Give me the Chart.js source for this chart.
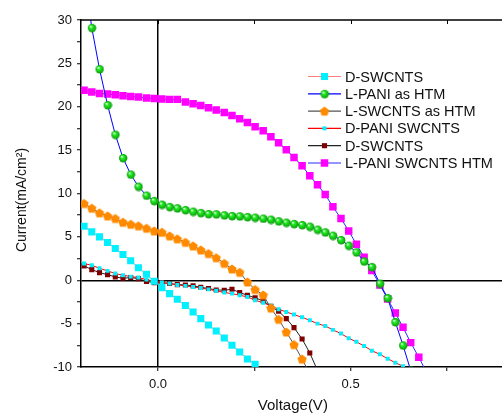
<!DOCTYPE html>
<html>
<head>
<meta charset="utf-8">
<script src="https://cdn.jsdelivr.net/npm/chart.js@4.4.1/dist/chart.umd.min.js"></script>
<style>
  html, body { margin: 0; padding: 0; background: #fff; overflow: hidden; }
  #wrap { width: 510px; height: 415px; }
</style>
</head>
<body>
<div id="wrap"><canvas id="ivChart" width="510" height="415"></canvas></div>
<script>
// shared voltage steps (V)
const voltage = [-0.192, -0.172, -0.152, -0.131, -0.111, -0.091, -0.071, -0.051, -0.030, -0.010,
  0.010, 0.030, 0.050, 0.071, 0.091, 0.111, 0.131, 0.151, 0.172, 0.192,
  0.212, 0.232, 0.252, 0.273, 0.293, 0.313, 0.333, 0.353, 0.374, 0.394,
  0.414, 0.434, 0.454, 0.475, 0.495, 0.515, 0.535, 0.555, 0.576, 0.596,
  0.616, 0.636, 0.656, 0.677, 0.697];

// current density per device (mA/cm2), one value per voltage step
const dSwcnts = [6.23, 5.58, 5.0, 4.35, 3.65, 2.96, 2.25, 1.45, 0.69, -0.12,
  -0.85, -1.54, -2.19, -2.92, -3.65, -4.42, -5.15, -5.85, -6.65, -7.5,
  -8.27, -9.08, -9.7];
const lPaniHtm = [35.5, 29.1, 24.35, 20.2, 16.8, 14.1, 12.2, 10.8, 9.77, 9.15,
  8.73, 8.46, 8.31, 8.11, 7.92, 7.77, 7.65, 7.62, 7.5, 7.42,
  7.38, 7.3, 7.23, 7.12, 7.0, 6.81, 6.65, 6.5, 6.38, 6.19,
  5.85, 5.54, 5.15, 4.65, 4.0, 3.23, 2.19, 1.54, -0.38, -2.04,
  -4.81, -7.5, -10.4];
const lSwcntsHtm = [8.85, 8.31, 7.77, 7.42, 7.12, 6.69, 6.46, 6.27, 6.0, 5.69,
  5.54, 5.11, 4.77, 4.38, 3.96, 3.5, 3.08, 2.6, 1.95, 1.3,
  0.92, -0.2, -1.06, -1.7, -3.2, -4.5, -5.96, -7.42, -9.08, -10.8];
const dPaniSwcnts = [1.92, 1.73, 1.38, 1.08, 0.77, 0.58, 0.42, 0.31, 0.08, -0.12,
  -0.27, -0.38, -0.54, -0.65, -0.77, -0.9, -1.05, -1.2, -1.42, -1.54,
  -1.73, -1.92, -2.3, -2.6, -2.95, -3.35, -3.65, -3.96, -4.27, -4.62,
  -5.0, -5.27, -5.72, -6.15, -6.68, -7.1, -7.58, -8.12, -8.54, -9.04,
  -9.5, -9.92];
const dSwcnts2 = [1.65, 1.23, 0.88, 0.65, 0.38, 0.23, 0.31, 0.19, -0.15, -0.27,
  -0.27, -0.38, -0.5, -0.54, -0.65, -0.81, -0.96, -1.12, -1.15, -1.04,
  -1.42, -1.73, -2.02, -2.38, -3.0, -3.58, -4.42, -5.46, -6.77, -8.38,
  -10.4];
const lPaniSwcntsHtm = [21.89, 21.69, 21.54, 21.46, 21.38, 21.27, 21.19, 21.11, 21.0, 20.96,
  20.88, 20.85, 20.85, 20.54, 20.35, 20.15, 19.88, 19.62, 19.35, 19.0,
  18.62, 18.19, 17.69, 17.23, 16.54, 15.85, 15.04, 14.15, 13.19, 12.04,
  11.0, 9.88, 8.46, 7.12, 5.69, 4.15, 2.65, 1.12, -0.54, -2.15,
  -3.77, -5.42, -7.19, -8.88, -10.6];

const seriesNames = ['D-SWCNTS', 'L-PANI as HTM', 'L-SWCNTS as HTM', 'D-PANI SWCNTS', 'D-SWCNTS', 'L-PANI SWCNTS HTM'];

const xTickValues = [0, 0.25, 0.5, 0.75];
const xTickLabels = { 0: '0.0', 0.5: '0.5' };
const yTickValues = [-10, -7.5, -5, -2.5, 0, 2.5, 5, 7.5, 10, 12.5, 15, 17.5, 20, 22.5, 25, 27.5, 30];
const yTitle = 'Current(mA/cm²)';

const FONT = 'Liberation Sans, Arial, sans-serif';

// shaded ball marker
function sphere(r, body, edge) {
  const c = document.createElement('canvas');
  c.width = c.height = 2 * r + 2;
  const g = c.getContext('2d');
  const m = r + 1;
  const grd = g.createRadialGradient(m - r * 0.35, m - r * 0.4, r * 0.05, m, m, r);
  grd.addColorStop(0, '#f4fff4');
  grd.addColorStop(0.35, body);
  grd.addColorStop(1, edge);
  g.fillStyle = grd;
  g.beginPath();
  g.arc(m, m, r, 0, Math.PI * 2);
  g.fill();
  return c;
}

// pentagon marker, point up
function pentagon(r, color) {
  const c = document.createElement('canvas');
  c.width = c.height = Math.ceil(2 * r + 2);
  const g = c.getContext('2d');
  const m = c.width / 2;
  g.fillStyle = color;
  g.beginPath();
  for (let i = 0; i < 5; i++) {
    const a = -Math.PI / 2 + i * 2 * Math.PI / 5;
    const px = m + r * Math.cos(a), py = m + r * Math.sin(a) + 0.5;
    if (i === 0) g.moveTo(px, py); else g.lineTo(px, py);
  }
  g.closePath();
  g.fill();
  return c;
}

function points(values) {
  return values.map((y, i) => ({ x: voltage[i], y: y }));
}

function series(label, values, line, marker, style, radius) {
  return {
    label: label,
    data: points(values),
    borderColor: line,
    borderWidth: 1,
    backgroundColor: marker,
    pointBackgroundColor: marker,
    pointBorderColor: marker,
    pointBorderWidth: 0,
    pointStyle: style,
    pointRadius: radius,
    pointHoverRadius: radius,
    tension: 0,
    fill: false
  };
}

const greenBall = sphere(4.2, '#22ee22', '#0a9a0a');
const orangePenta = pentagon(4.9, '#ff8a00');

const datasets = [
  series(seriesNames[0], dSwcnts, '#ff8080', '#00f0ff', 'rect', 5),
  series(seriesNames[1], lPaniHtm, '#0000ff', '#22ee22', greenBall, 4),
  series(seriesNames[2], lSwcntsHtm, '#555555', '#ff8a00', orangePenta, 5),
  series(seriesNames[3], dPaniSwcnts, '#ff0000', '#00f0ff', 'rect', 2.8),
  series(seriesNames[4], dSwcnts2, '#222222', '#800000', 'rect', 3.6),
  series(seriesNames[5], lPaniSwcntsHtm, '#2a2aff', '#ff00ff', 'rect', 5.3)
];

// y title, top frame line with inward ticks, and line-and-symbol legend
const plotExtras = {
  id: 'plotExtras',
  afterDraw(chart) {
    const ctx = chart.ctx;
    const area = chart.chartArea;
    const xs = chart.scales.x;
    ctx.save();

    ctx.save();
    ctx.translate(22, 200);
    ctx.rotate(-Math.PI / 2);
    ctx.font = '14px ' + FONT;
    ctx.fillStyle = '#111';
    ctx.textAlign = 'center';
    ctx.textBaseline = 'middle';
    ctx.fillText(yTitle, 0, 0);
    ctx.restore();

    ctx.strokeStyle = '#000';
    ctx.lineWidth = 1.5;
    ctx.beginPath();
    ctx.moveTo(area.left, area.top);
    ctx.lineTo(area.right, area.top);
    ctx.stroke();
    ctx.lineWidth = 1;
    xTickValues.forEach(v => {
      const px = Math.round(xs.getPixelForValue(v)) + 0.5;
      ctx.beginPath();
      ctx.moveTo(px, area.top);
      ctx.lineTo(px, area.top + 4);
      ctx.stroke();
    });

    const lx0 = 308, lx1 = 341, tx = 345;
    let ly = 76.5;
    ctx.font = '14.5px ' + FONT;
    ctx.textBaseline = 'middle';
    chart.data.datasets.forEach(ds => {
      ctx.strokeStyle = ds.borderColor;
      ctx.lineWidth = 1.2;
      ctx.beginPath();
      ctx.moveTo(lx0, ly);
      ctx.lineTo(lx1, ly);
      ctx.stroke();
      const cx = (lx0 + lx1) / 2;
      if (typeof ds.pointStyle === 'string') {
        const half = Math.SQRT1_2 * ds.pointRadius;
        ctx.fillStyle = ds.pointBackgroundColor;
        ctx.fillRect(cx - half, ly - half, half * 2, half * 2);
      } else {
        ctx.drawImage(ds.pointStyle, cx - ds.pointStyle.width / 2, ly - ds.pointStyle.height / 2);
      }
      ctx.fillStyle = '#111';
      ctx.fillText(ds.label, tx, ly + 1);
      ly += 17.3;
    });
    ctx.restore();
  }
};

const ctx = document.getElementById('ivChart').getContext('2d');
const chart = new Chart(ctx, {
  type: 'line',
  data: { datasets: datasets },
  options: {
    responsive: false,
    animation: false,
    events: [],
    layout: { padding: { top: 20, right: 2, left: 0, bottom: 0 } },
    plugins: {
      legend: { display: false },
      tooltip: { enabled: false }
    },
    scales: {
      x: {
        type: 'linear',
        min: -0.2,
        max: 0.9,
        afterFit: s => { s.height = 48; },
        afterBuildTicks: s => { s.ticks = xTickValues.map(v => ({ value: v })); },
        border: { display: true, color: '#000', width: 1.5 },
        grid: {
          drawOnChartArea: true,
          color: c => (c.tick && c.tick.value === 0 ? '#000' : 'rgba(0,0,0,0)'),
          lineWidth: 1.5,
          tickColor: '#000',
          tickWidth: 1,
          tickLength: 4
        },
        ticks: {
          color: '#111',
          font: { family: FONT, size: 13 },
          padding: 6,
          maxRotation: 0,
          callback: v => (v in xTickLabels ? xTickLabels[v] : '')
        },
        title: {
          display: true,
          text: 'Voltage(V)',
          color: '#111',
          font: { family: FONT, size: 15 },
          padding: { top: 0, bottom: 0 }
        }
      },
      y: {
        min: -10,
        max: 30,
        afterFit: s => { s.width = 81; },
        afterBuildTicks: s => { s.ticks = yTickValues.map(v => ({ value: v })); },
        border: { display: true, color: '#000', width: 1.5 },
        grid: {
          drawOnChartArea: true,
          color: c => (c.tick && c.tick.value === 0 ? '#000' : 'rgba(0,0,0,0)'),
          lineWidth: 1.5,
          tickColor: '#000',
          tickWidth: 1,
          tickLength: 4
        },
        ticks: {
          color: '#111',
          font: { family: FONT, size: 13 },
          padding: 5,
          callback: v => (v % 5 === 0 ? String(v) : '')
        },
        title: { display: false }
      }
    }
  },
  plugins: [plotExtras]
});
</script>
</body>
</html>
